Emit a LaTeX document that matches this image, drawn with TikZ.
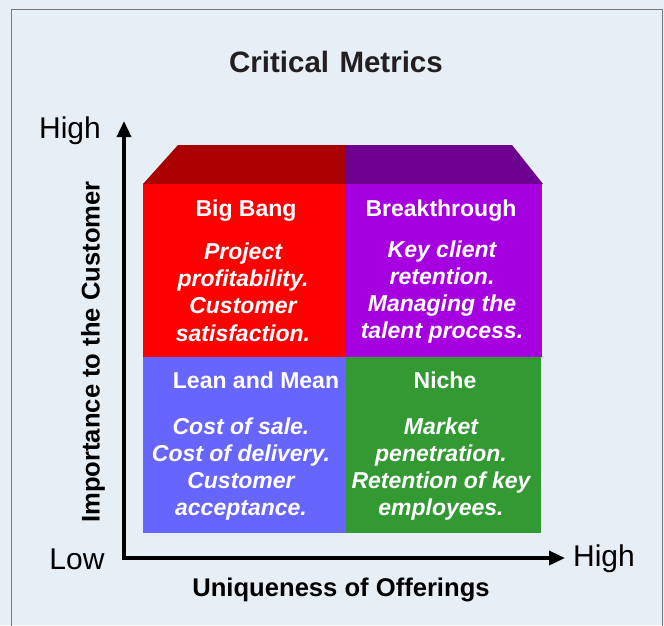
\documentclass[tikz,border=0pt]{standalone}
\usepackage{fontspec}
\setmainfont{Liberation Sans}
\usetikzlibrary{arrows.meta}
\definecolor{bgc}{RGB}{231,239,246}
\definecolor{framec}{RGB}{120,120,120}
\definecolor{qred}{RGB}{255,0,0}
\definecolor{qredtop}{RGB}{170,0,0}
\definecolor{qpur}{RGB}{166,0,224}
\definecolor{qpurtop}{RGB}{110,0,145}
\definecolor{qblue}{RGB}{102,102,255}
\definecolor{qgreen}{RGB}{51,153,51}
\begin{document}
\begin{tikzpicture}[x=1pt,y=-1pt,
  qtitle/.style={text=white,font=\fontsize{23}{27}\selectfont\bfseries,inner sep=0pt},
  qbody/.style={text=white,font=\fontsize{23}{27.3}\selectfont\bfseries\itshape,align=center,inner sep=0pt},
  axlabel/.style={font=\fontsize{30}{32}\selectfont,inner sep=0pt},
  axtitle/.style={font=\fontsize{25.6}{28}\selectfont\bfseries,inner sep=0pt},
  axis/.style={line width=3.5pt,-{Triangle[length=16pt,width=14pt]}}]
\useasboundingbox (0,0) rectangle (664,625);
\fill[bgc] (0,0) rectangle (664,625);
\draw[framec,line width=1pt] (11,640) -- (11,9) -- (662,9) -- (662,640);
\node[font=\fontsize{29.5}{32}\selectfont\bfseries,text={rgb,255:red,35;green,31;blue,32}] (title) at (336,62) {Critical\hspace{0.35em}Metrics};
% top trapezoid
\fill[qredtop] (143,184) -- (178,145) -- (345,145) -- (345,184) -- cycle;
\fill[qpurtop] (345,184) -- (345,145) -- (512,145) -- (543,184) -- cycle;
% quadrants
\fill[qred] (143,184) rectangle (345,357);
\fill[qpur] (345,184) rectangle (542,357);
\fill[qblue] (143,357) rectangle (346,533);
\fill[qgreen] (346,357) rectangle (541,533);
% axes
\coordinate (origin) at (124,558);
\coordinate (ytip) at (124,121);
\coordinate (xtip) at (565,558);
\draw[axis] (124,558) -- (ytip);
\draw[axis] (122.25,558) -- (xtip);
\node[axlabel] (yhigh) at (70,131) {High};
\node[axlabel] (low) at (77,559) {Low};
\node[axlabel] (xhigh) at (604,559) {High};
\node[axtitle,rotate=90] (ytitle) at (93,352) {Importance to the Customer};
\node[axtitle] (xtitle) at (341,590) {Uniqueness of Offerings};
% quadrant texts
\node[qtitle] (bb) at (246,211) {Big Bang};
\node[qbody] (bbb) at (243,292) {Project\\profitability.\\Customer\\satisfaction.};
\node[qtitle] (bt) at (441,211) {Breakthrough};
\node[qbody] (btb) at (442,292) {Key client\\retention.\\Managing the\\talent process.};
\node[qtitle] (lm) at (256,380) {Lean and Mean};
\node[qbody] (lmb) at (241,469) {Cost of sale.\\Cost of delivery.\\Customer\\acceptance.};
\node[qtitle] (ni) at (445,380) {Niche};
\node[qbody] (nib) at (441,469) {Market\\penetration.\\Retention of key\\employees.};
\end{tikzpicture}
\end{document}
